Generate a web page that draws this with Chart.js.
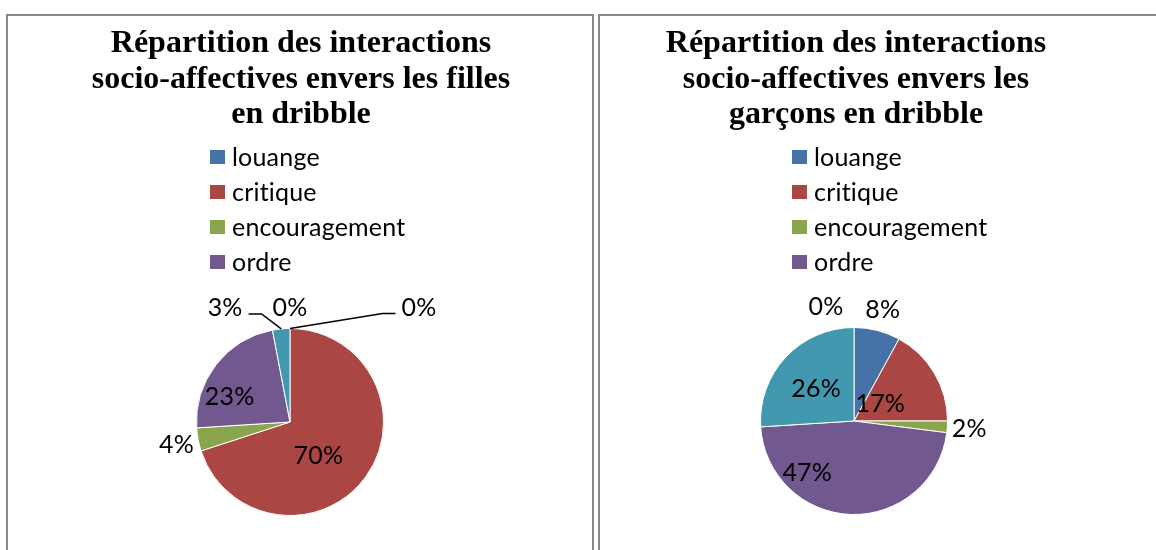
<!DOCTYPE html>
<html>
<head>
<meta charset="utf-8">
<script src="https://cdn.jsdelivr.net/npm/chart.js@4"></script>
<style>
    body { margin: 0; width: 1156px; height: 550px; overflow: hidden; background: #fff; }
    .panel { position: absolute; top: 14px; height: 600px; border: 2px solid #888; box-sizing: border-box; }
    .title { position: absolute; top: 24px; font-family: "Liberation Serif", "Times New Roman", serif;
             font-weight: bold; font-size: 32px; line-height: 35.5px; text-align: center; color: #000; }
    .box { position: absolute; left: 0; top: 0; height: 534px; }
</style>
</head>
<body>
<div class="panel" style="left:6px; width:588px;">
    <div class="box" style="width:584px;"><canvas id="chart-filles"></canvas></div>
</div>
<div class="panel" style="left:598px; width:700px;">
    <div class="box" style="width:560px;"><canvas id="chart-garcons"></canvas></div>
</div>
<div class="title" style="left:8px; width:586px;">Répartition des interactions<br>socio-affectives envers les filles<br>en dribble</div>
<div class="title" style="left:600px; width:512px;">Répartition des interactions<br>socio-affectives envers les<br>garçons en dribble</div>

<script>
const categories = ["louange", "critique", "encouragement", "ordre", "", ""];
const fillesValues = [0, 70, 4, 23, 3, 0];
const garconsValues = [8, 17, 2, 47, 26, 0];

const palette = ["#4572A7", "#AA4643", "#89A54E", "#71588F", "#4198AF", "#DB843D"];
const labelFont = "25px Lato, sans-serif";

function setFont(ctx) {
    ctx.font = labelFont;
    // a small letter spacing keeps Lato from joining "ti"
    if ("letterSpacing" in ctx) ctx.letterSpacing = "0.2px";
}

// legend drawn as a vertical list between title and pie
const stackedLegend = {
    id: "stackedLegend",
    afterDraw(chart, args, opts) {
        const ctx = chart.ctx;
        const labels = chart.data.labels;
        const colors = chart.data.datasets[0].backgroundColor;
        ctx.save();
        setFont(ctx);
        ctx.textBaseline = "middle";
        ctx.textAlign = "left";
        let row = 0;
        labels.forEach((text, i) => {
            if (!text) return;
            const y = opts.y + row * opts.step;
            ctx.fillStyle = colors[i];
            ctx.fillRect(opts.x, y - 7, 15, 14);
            ctx.fillStyle = "#000";
            ctx.fillText(text, opts.x + 22, y + 1);
            row++;
        });
        ctx.restore();
    },
};

// percentage labels, inside for big slices and outside for small ones
const pctLabels = {
    id: "pctLabels",
    afterDatasetsDraw(chart, args, opts) {
        const ctx = chart.ctx;
        const data = chart.data.datasets[0].data;
        const total = data.reduce((a, b) => a + b, 0);
        const meta = chart.getDatasetMeta(0);
        ctx.save();
        setFont(ctx);
        ctx.fillStyle = "#000";
        ctx.strokeStyle = "#000";
        ctx.lineWidth = 1.5;
        ctx.textAlign = "center";
        ctx.textBaseline = "middle";
        meta.data.forEach((arc, i) => {
            const p = arc.getProps(["x", "y", "startAngle", "endAngle", "outerRadius"], true);
            const mid = (p.startAngle + p.endAngle) / 2;
            const pct = Math.round(data[i] / total * 100);
            const inside = pct >= 10;
            const r = inside ? p.outerRadius * 0.6 : p.outerRadius + 22;
            const nudge = (opts.nudge && opts.nudge[i]) || [0, 0];
            const lx = p.x + Math.cos(mid) * r + nudge[0];
            const ly = p.y + Math.sin(mid) * r + nudge[1];
            const text = pct + "%";
            if (opts.leaders && opts.leaders.includes(i)) {
                const ax = p.x + Math.cos(mid) * p.outerRadius;
                const ay = p.y + Math.sin(mid) * p.outerRadius;
                const side = lx > ax ? 1 : -1;
                const w = ctx.measureText(text).width / 2;
                const ex = lx - side * (w + 6);
                const ey = ly + 7;
                ctx.beginPath();
                ctx.moveTo(ax, ay);
                ctx.lineTo(ex - side * 13, ey);
                ctx.lineTo(ex, ey);
                ctx.stroke();
            }
            ctx.fillText(text, lx, ly + 1);
        });
        ctx.restore();
    },
};

function createPie(canvasId, values, padding, legendPos, labelOpts) {
    const canvas = document.getElementById(canvasId);
    new Chart(canvas, {
        type: "pie",
        data: {
            labels: categories,
            datasets: [{
                data: values,
                backgroundColor: palette,
                borderColor: "#ffffff",
                borderWidth: 1,
            }],
        },
        options: {
            responsive: true,
            maintainAspectRatio: false,
            animation: false,
            layout: { padding: padding },
            plugins: {
                legend: { display: false },
                tooltip: { enabled: false },
                stackedLegend: legendPos,
                pctLabels: labelOpts,
            },
        },
        plugins: [stackedLegend, pctLabels],
    });
}

createPie("chart-filles", fillesValues,
    { top: 312, bottom: 34, left: 150, right: 170 },
    { x: 202, y: 141, step: 35 },
    { nudge: { 0: [129, 0], 1: [-17, 0], 3: [-16, 8], 4: [-54, 0] }, leaders: [0, 4] });

createPie("chart-garcons", garconsValues,
    { top: 311, bottom: 35, left: 160, right: 212 },
    { x: 192, y: 141, step: 35 },
    { nudge: { 1: [-22, 10], 3: [-45, -5], 4: [3, 5], 5: [-28, 0] } });
</script>
</body>
</html>
